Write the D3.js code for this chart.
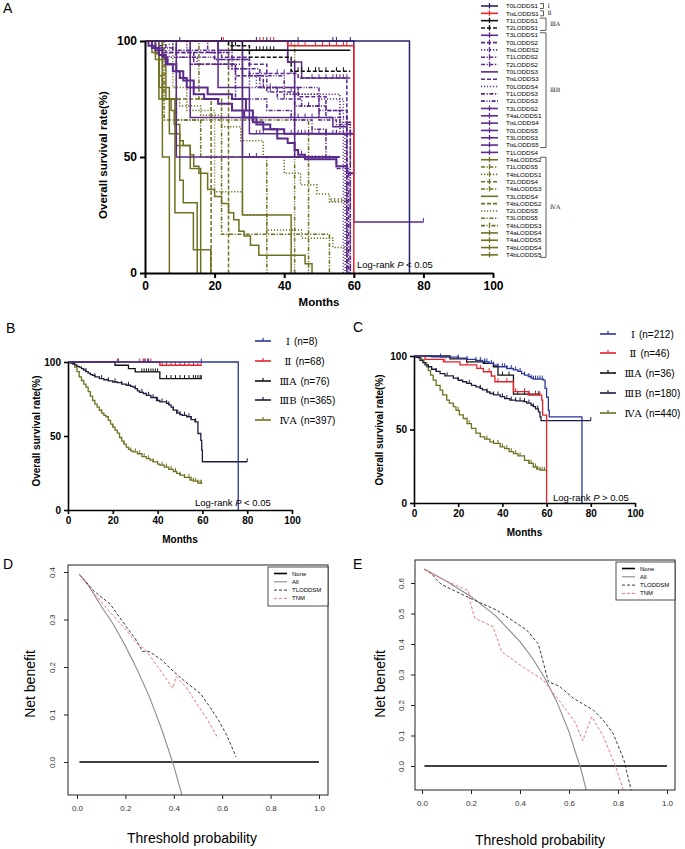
<!DOCTYPE html>
<html>
<head>
<meta charset="utf-8">
<script src="https://cdn.jsdelivr.net/npm/d3@7"></script>
<style>
  body { margin: 0; background: #fff; }
  svg text { font-family: Arial, "Liberation Sans", sans-serif; }
</style>
</head>
<body>
<svg id="fig" width="685" height="849"></svg>
<script>
// ---------- data: panel A (stage by T + LODDS) ----------
var aNames = ["T0LODDS1","TisLODDS1","T1LODDS1","T2LODDS1","T3LODDS1","T0LODDS2","TisLODDS2","T1LODDS2","T2LODDS2",
  "T0LODDS3","TisLODDS3","T0LODDS4","T1LODDS3","T2LODDS3","T3LODDS2","T4aLODDS1","TisLODDS4","T0LODDS5","T3LODDS3",
  "TisLODDS5","T1LODDS4","T4aLODDS2","T1LODDS5","T4bLODDS1","T2LODDS4","T4aLODDS3","T3LODDS4","T4bLODDS2","T2LODDS5",
  "T3LODDS5","T4bLODDS3","T4aLODDS4","T4aLODDS5","T4bLODDS4","T4bLODDS5"];

// survival steps [month, %] for each legend entry
var aCurves = [
  [[0,100],[76,0]],
  [[0,100],[41,98],[60,0]],
  [[0,100],[25,96],[59,96]],
  [[0,100],[24,98],[30,93],[42,87],[59,87]],
  [[0,100],[21,96],[41,91],[45,84],[59,84]],
  [[0,100],[3,98],[5,95],[22,93],[30,90],[35,86],[44,84],[58,0]],
  [[0,100],[7,93],[15,90],[28,85],[32,80],[40,77],[50,75],[57,0]],
  [[0,100],[18,95],[25,88],[33,80],[38,75],[45,72],[52,67],[58,0]],
  [[0,100],[8,96],[20,92],[30,86],[35,78],[43,72],[50,66],[55,64],[59,0]],
  [[0,100],[28,50],[56,50]],
  [[0,100],[6,95],[14,90],[26,85],[34,80],[44,76],[52,70],[58,0]],
  [[0,100],[12,95],[24,88],[30,80],[40,77],[56,60],[57.5,0]],
  [[0,100],[13,90],[26,75],[35,70],[42,66],[48,62],[52,50],[55,45],[58.5,0]],
  [[0,100],[4,97],[9,93],[20,92],[30,85],[40,80],[50,70],[56,65],[59,0]],
  [[0,100],[1,98],[3,96],[5,93],[6.5,90],[8,87],[10,84],[12,80],[14,77],[17,75],[21,73],[25,70],[28.5,67],[32,64],[36,62],[40,60],[60,60]],
  [[0,100],[2,97],[4,94],[6,90],[9,87],[11,83],[14,80],[18,77],[25,75],[29,70],[31,65],[34,62],[38,58],[41,56],[43,53],[44,51],[46,49],[55,46],[58,43],[60,43]],
  [[0,100],[13,67],[50,67],[54,63],[58,63]],
  [[0,100],[21,80],[30,60],[60,60]],
  [[0,100],[9,50],[56,50]],
  [[0,100],[41,91],[43,50],[55,50]],
  [[0,100],[60,22],[80,22]],
  [[0,100],[3,94.5],[4,85],[5,75],[7.5,70],[8.4,64],[10,57],[11,55],[13,51],[14,46],[15.5,43],[18,36],[20,33],[22,30],[24,26],[25.5,23],[27,18],[28.5,16],[30.3,12],[32.7,7.6],[46,4],[48,0]],
  [[0,100],[5.5,66],[16,50],[35,0]],
  [[0,100],[5,75],[10,72],[16,68],[22,63],[27.5,57],[34,50],[40,43],[44.7,38],[49.4,34],[53,30.6],[58,30.6]],
  [[0,100],[5,75],[19,0]],
  [[0,100],[15.5,75],[22,16.7],[53,0]],
  [[0,100],[28,25],[42,0]],
  [[0,100],[24,0]],
  [[0,100],[8,80],[12,70],[20,35],[28,25],[35,18.5],[45,15],[54,11],[58,2.6]],
  [[0,100],[9,66],[47,0]],
  [[0,100],[43,0]],
  [[0,100],[5,50],[7,0]],
  [[0,100],[3,92],[6,75],[8.6,26],[13.9,10],[18.9,0]],
  [[0,100],[4,80],[7,60],[10,40],[11,30.3],[15,0]],
  [[0,100],[2,95],[4,75],[9,55],[13,45],[16,0]]
];

// censored times (months)
var aCensor = [
  [10,22,32,35,44,54,55,59],
  [22.5,33,34,36,37,42,44,46,49,51,53,55,57,58],
  [32,33,34,35,36,37],
  [26,28,44,45,47,49,50,52,55,57],
  [48,50,52,54,55,56,57,58],
  [38,40,42],[34,36,44],[40,47,50],[36,38,42],
  [],[],[],[],[],
  [42,44,45,46,47,48,50,52,54,55,58],
  [45,47,48,49,50,51,52,53],
  [44,46,48,50],
  [32,33,34,52,55,57,59],
  [30,32],
  [],
  [80],
  [],[],
  [53.5,54.5,55.5,56.5,57.5],
  [],[],[],[],[],[],[],[],[],[],[],[]
];

var stageLabels = ["Ⅰ","Ⅱ","ⅢA","ⅢB","ⅣA"];
var stageFrom = [0,1,2,4,21];
var stageTo = [0,1,3,19,34];

// ---------- data: panels B and C ----------
var bN = [8,68,76,365,397];
var bCurves = [
  [[0,100],[76,0]],
  [[0,100],[41,97.8],[59.7,97.8]],
  [[0,100],[21,97.8],[27,95.5],[30,93.3],[41,88.8],[59.7,88.8]],
  [[0,100],[1,99.5],[2,99],[3,98],[4,97],[5,96.6],[6,95.5],[7,94.5],[8,93.5],[9,92.5],[10,91.5],[11,91],[12,90],[14,88.8],[16,88],[18,87.3],[20,86.5],[22,86],[24,85],[26,84.3],[28,83.5],[29,83],[30,82],[31,80.5],[32,79.5],[33.6,78.7],[35,77.5],[37,76],[39.5,74],[41,73],[44,72],[45,71],[46,69.5],[47,67.5],[48.5,65.5],[50,64.5],[51,64],[53,63],[55,61],[56.7,59.6],[58,51.7],[59.3,47],[59.7,40.4],[60,32.6],[80,32.6]],
  [[0,100],[1,99.5],[2,98.5],[3,96.6],[4,93.5],[5,90],[6,87.5],[7,85],[8,83],[9,80],[10,77],[11,74],[12,71.5],[13,69.5],[14,67.4],[15,65.5],[16,64],[17,63],[18,60.5],[19,58],[20,56],[21,54],[22,52],[23,49],[24,46.5],[25,44.5],[26,42.5],[27,41],[28,40],[29,39.3],[31,38],[33,36],[35,34.7],[36.6,33.7],[38,32.5],[40,31],[41,30.3],[43,29],[45,27.5],[47,26],[48.5,24.7],[50,23.5],[52,22],[54.5,20.2],[56,19.5],[58,18.2],[59.5,18],[60,18]]
];
var bCensor = [
  [22.5,34,36,59.5],
  [22,32,33.5,34.5,35.5,37,42,44,46,48,50,52,54,56,58,59.5],
  [33,34,35,36,37,38,39,40,44,46,48,50,52,54,56,57,58,59,59.5],
  [8,12,15,18,21,24,27,30,33,36,38,40,42,44,45,47,49,50,52,54,55,57,80],
  [10,15,20,25,28,30,32,34,36,38,40,42,44,46,48,50,52,54,55,56,57,58,59,59.5]
];

var cN = [212,46,36,180,440];
var cCurves = [
  [[0,100],[8,99.5],[12,99.3],[20,98.5],[24,97.7],[28,97],[31,96],[34,95],[36,93.8],[38,92.7],[42,91.5],[45,90.5],[47,89.5],[48.7,88],[50,87],[51.7,86],[53,85],[54,84.3],[58.5,83.6],[59.3,78],[60,72],[60.8,63],[61.2,58.6],[76,0]],
  [[0,100],[5,97.7],[13.3,96],[20.8,93.9],[28.4,91.6],[31.4,89.3],[35,86.4],[36.6,82.5],[45,75.7],[51.7,73.4],[57.8,70],[58.2,59.8],[60,0]],
  [[0,100],[16.3,98],[23.8,96],[31.4,95],[35.9,92.7],[38,87],[45,74],[57,74]],
  [[0,100],[1,99],[2.7,97],[4,95.5],[5,94],[6.5,92.7],[8,91],[10,89.5],[11.8,88],[14,86.5],[17.8,85],[20,83.5],[22,82.5],[23.8,81.4],[26,80],[28,79],[29.9,78],[31,77],[33,75.5],[34.4,74.5],[36,73.5],[39,72.3],[41,71],[43.4,70],[46,69.5],[49.5,69],[51,68],[53,66.5],[54,65.5],[55,64],[56.3,62],[57,58.6],[57.5,56],[80,56]],
  [[0,100],[1,99.3],[2,98.5],[3.5,97.3],[4.5,95.5],[5.7,92.7],[6.5,90],[7.5,87],[8.7,83.6],[10,80],[11.8,76.8],[13,73.5],[14.8,70],[16,68],[17.8,65.5],[19,63],[20.5,60],[22.3,57.5],[24,54],[26,50.7],[28,47.5],[30,45],[32,43.5],[34.4,41.6],[36,40.5],[39,38.2],[41,37],[43,35],[45,33.6],[47,32],[50,29],[52,27],[54,24.5],[55.5,23],[57,22.3],[60,21]]
];
var cCensor = [
  [12,20,24,28,30,32,33,35,36,38,40,41,42,44,46,48,50,52,53,54,55,56,57,58],
  [14,24,30,34,38,42,46,50,52,55,57],
  [20,32,36,40,43,47,50,52,55,56.5],
  [10,15,20,25,30,33,36,38,40,42,44,46,48,50,52,54,56,80],
  [20,25,30,33,36,38,40,42,44,46,48,50,52,53,54,55,56,57,58,59]
];

var kmXTicks = [0,20,40,60,80,100];
var kmYTicks = [0,50,100];

// ---------- data: panels D and E (decision curves) ----------
var dcaNames = ["None","All","TLODDSM","TNM"];
var dNone = [[0.01,0],[1,0]];
var dAll = [[0.01,0.395],[0.05,0.37],[0.1,0.328],[0.15,0.29],[0.2,0.244],[0.25,0.193],[0.3,0.136],[0.35,0.069],[0.4,-0.008],[0.45,-0.1]];
var dTlod = [[0.01,0.395],[0.07,0.36],[0.136,0.333],[0.205,0.284],[0.247,0.255],[0.27,0.233],[0.3,0.232],[0.35,0.215],[0.4,0.19],[0.45,0.168],[0.51,0.144],[0.55,0.115],[0.585,0.088],[0.62,0.055],[0.657,0.011]];
var dTnm = [[0.01,0.395],[0.07,0.355],[0.12,0.325],[0.2,0.28],[0.247,0.249],[0.28,0.238],[0.315,0.214],[0.355,0.185],[0.396,0.155],[0.41,0.18],[0.45,0.158],[0.495,0.123],[0.54,0.088],[0.583,0.05]];
var dYTicks = [0,0.1,0.2,0.3,0.4];

var eNone = [[0.01,0],[1,0]];
var eAll = [[0.01,0.645],[0.1,0.606],[0.2,0.556],[0.3,0.493],[0.4,0.408],[0.45,0.354],[0.5,0.29],[0.55,0.211],[0.6,0.112],[0.65,-0.014],[0.68,-0.11]];
var eTlod = [[0.01,0.645],[0.04,0.63],[0.06,0.61],[0.08,0.595],[0.196,0.55],[0.305,0.511],[0.427,0.446],[0.475,0.4],[0.516,0.276],[0.56,0.262],[0.618,0.222],[0.7,0.183],[0.74,0.15],[0.78,0.107],[0.824,0.02],[0.86,-0.1]];
var eTnm = [[0.01,0.645],[0.1,0.606],[0.19,0.575],[0.196,0.54],[0.216,0.484],[0.29,0.457],[0.325,0.375],[0.4,0.331],[0.495,0.282],[0.563,0.211],[0.624,0.145],[0.656,0.083],[0.693,0.162],[0.74,0.097],[0.79,0],[0.83,-0.1]];
var eYTicks = [0,0.1,0.2,0.3,0.4,0.5,0.6];
var dcaXTicks = [0,0.2,0.4,0.6,0.8,1];

// ---------- helpers ----------
var svg = d3.select("#fig");
var romanFont = '"DejaVu Serif", "Liberation Serif", serif';

function survAt(curve, t) {
  var s = curve[0][1];
  curve.forEach(function (p) { if (p[0] <= t) s = p[1]; });
  return s;
}

var dashes = { s: null, d: "4,2", o: "1.2,1.8", dd: "4,1.6,1.2,1.6", ddd: "4,1.5,1,1.5,1,1.5" };

// draws the KM axes for one panel
function kmAxes(g, x, y, o) {
  var xa = g.append("g")
    .attr("transform", "translate(0," + y(0) + ")")
    .call(d3.axisBottom(x).tickValues(kmXTicks).tickSize(o.tick).tickSizeOuter(0).tickPadding(o.pad));
  var ya = g.append("g")
    .attr("transform", "translate(" + x(0) + ",0)")
    .call(d3.axisLeft(y).tickValues(kmYTicks).tickSize(o.tick).tickSizeOuter(0).tickPadding(o.pad));
  [xa, ya].forEach(function (a) {
    a.select(".domain").attr("stroke", "#000").attr("stroke-width", o.lw);
    a.selectAll(".tick line").attr("stroke", "#000").attr("stroke-width", o.lw);
    a.selectAll("text").attr("fill", "#000").style("font-size", o.fs + "px").style("font-weight", "bold");
  });
  g.append("text")
    .attr("x", (x(0) + x(100)) / 2).attr("y", o.monthsY)
    .attr("text-anchor", "middle").style("font-size", o.lfs + "px").style("font-weight", "bold")
    .text("Months");
  g.append("text")
    .attr("transform", "translate(" + o.ylabX + "," + o.ylabY + ") rotate(-90)")
    .attr("text-anchor", "middle").style("font-size", o.lfs + "px").style("font-weight", "bold")
    .text("Overall survival rate(%)");
}

function logRank(g, x, y, sign) {
  var t = g.append("text").attr("x", x).attr("y", y).style("font-size", "9.5px");
  t.append("tspan").text("Log-rank ");
  t.append("tspan").style("font-style", "italic").text("P");
  t.append("tspan").text(" " + sign + " 0.05");
}

function drawCurve(g, x, y, curve, censor, color, dash, lw, th) {
  var line = d3.line().x(function (d) { return x(d[0]); }).y(function (d) { return y(d[1]); }).curve(d3.curveStepAfter);
  g.append("path").datum(curve)
    .attr("d", line).attr("fill", "none")
    .attr("stroke", color).attr("stroke-width", lw)
    .attr("stroke-dasharray", dash);
  g.selectAll(null).data(censor).enter().append("line")
    .attr("x1", function (t) { return x(t); }).attr("x2", function (t) { return x(t); })
    .attr("y1", function (t) { return y(survAt(curve, t)); })
    .attr("y2", function (t) { return y(survAt(curve, t)) - th; })
    .attr("stroke", color).attr("stroke-width", 1);
}

// panel letters
[["A",3,13],["B",6,333],["C",353,332],["D",3,569],["E",353,569]].forEach(function (p) {
  svg.append("text").attr("x", p[1]).attr("y", p[2]).style("font-size", "14px").text(p[0]);
});

// ---------- panel A ----------
var navyA = "#24246e", red = "#e8262a", purple = "#5b2a8c", olive = "#6f7020";
var aColor = function (i) { return i === 0 ? navyA : i === 1 ? red : i < 4 ? "#111" : i < 21 ? purple : olive; };
var aDash = ["s","s","s","d","s","d","o","dd","dd","s","d","o","dd","ddd","s","s","s","s","s","s","s",
  "s","dd","o","d","dd","s","d","o","dd","ddd","s","s","s","s"];
var aLegTick = [1,1,1,1,1,1,1,1,1,0,0,0,0,0,1,1,1,1,1,1,1,1,1,1,1,1,0,0,0,0,1,1,1,1,1];

var gA = svg.append("g");
var ax = d3.scaleLinear().domain([0, 100]).range([145, 493]);
var ay = d3.scaleLinear().domain([0, 100]).range([273, 41]);

for (var i = aCurves.length - 1; i >= 0; i--) {
  drawCurve(gA, ax, ay, aCurves[i], aCensor[i], aColor(i), dashes[aDash[i]], i === 15 || i === 14 ? 2 : 1.5, 4);
}
kmAxes(gA, ax, ay, { tick: 5, pad: 3, lw: 2, fs: 12, lfs: 11.5, monthsY: 306, ylabX: 107, ylabY: 155 });
logRank(gA, 357, 268, "<");

// legend A
aNames.forEach(function (n, i) {
  var yy = 6 + i * 7.32;
  gA.append("line").attr("x1", 481).attr("x2", 498).attr("y1", yy).attr("y2", yy)
    .attr("stroke", aColor(i)).attr("stroke-width", 1.6).attr("stroke-dasharray", dashes[aDash[i]]);
  if (aLegTick[i]) {
    gA.append("line").attr("x1", 489.5).attr("x2", 489.5).attr("y1", yy - 3).attr("y2", yy + 2.5)
      .attr("stroke", aColor(i)).attr("stroke-width", 1.3);
  }
  gA.append("text").attr("x", 506).attr("y", yy + 2.2).style("font-size", "6.2px").text(n);
});
stageLabels.forEach(function (s, k) {
  var y1 = 6 + stageFrom[k] * 7.32 - 2.5, y2 = 6 + stageTo[k] * 7.32 + 2.5;
  var bx = k < 2 ? 543.5 : 546;
  gA.append("path")
    .attr("d", "M540," + y1 + "H" + bx + "V" + y2 + "H540")
    .attr("fill", "none").attr("stroke", "#333").attr("stroke-width", 0.8);
  gA.append("text").attr("x", bx + 4).attr("y", (y1 + y2) / 2 + 2)
    .style("font-family", romanFont).style("font-size", "6px").attr("fill", "#222").text(s);
});

// ---------- panels B and C ----------
var kmColors = ["#2b3598", "#e3242b", "#111111", "#1c1c3e", "#6f7020"];

function kmPanel(xr, yr, curves, censor, nArr, o) {
  var g = svg.append("g");
  var x = d3.scaleLinear().domain([0, 100]).range(xr);
  var y = d3.scaleLinear().domain([0, 100]).range(yr);
  for (var k = curves.length - 1; k >= 0; k--) {
    drawCurve(g, x, y, curves[k], censor[k], kmColors[k], null, 1.3, 3.5);
  }
  kmAxes(g, x, y, o);
  logRank(g, o.lrX, o.lrY, o.sign);
  stageLabels.forEach(function (s, k) {
    var yy = o.legY[k];
    g.append("line").attr("x1", o.legX).attr("x2", o.legX + 16).attr("y1", yy).attr("y2", yy)
      .attr("stroke", kmColors[k]).attr("stroke-width", 1.6);
    g.append("line").attr("x1", o.legX + 8).attr("x2", o.legX + 8).attr("y1", yy - 3).attr("y2", yy)
      .attr("stroke", kmColors[k]).attr("stroke-width", 1.2);
    var r = g.append("text").attr("x", o.romX).attr("y", yy + 3.5).attr("text-anchor", "middle")
      .style("font-family", romanFont).style("font-size", "10px").text(s);
    var w = r.node().getComputedTextLength();
    g.append("text").attr("x", o.romX + w / 2 + 4).attr("y", yy + 3.5)
      .style("font-size", "10px").text("(n=" + nArr[k] + ")");
  });
}

kmPanel([68, 292], [510, 362], bCurves, bCensor, bN,
  { tick: 4, pad: 3, lw: 1.6, fs: 10, lfs: 10, monthsY: 543, ylabX: 40, ylabY: 431,
    lrX: 195, lrY: 506, sign: "<", legX: 255, romX: 288, legY: [341, 361, 381, 400, 420] });
kmPanel([414, 635], [503, 356], cCurves, cCensor, cN,
  { tick: 4, pad: 3, lw: 1.6, fs: 10, lfs: 10, monthsY: 536, ylabX: 383, ylabY: 430,
    lrX: 553, lrY: 501, sign: ">", legX: 600, romX: 633, legY: [334, 353, 373, 393, 413] });

// ---------- panels D and E ----------
var dcaStyle = [
  { c: "#000", w: 1.6, d: null },
  { c: "#8a8a8a", w: 1.1, d: null },
  { c: "#222", w: 0.9, d: "3,2" },
  { c: "#f07878", w: 1, d: "3,2" }
];

function dcaPanel(box, xr, yDom, yRan, series, yTicks, o) {
  var g = svg.append("g");
  var x = d3.scaleLinear().domain([0, 1]).range(xr);
  var y = d3.scaleLinear().domain(yDom).range(yRan);
  var clipId = "clip" + o.id;
  g.append("clipPath").attr("id", clipId).append("rect")
    .attr("x", box[0]).attr("y", box[2]).attr("width", box[1] - box[0]).attr("height", box[3] - box[2]);
  var line = d3.line().x(function (d) { return x(d[0]); }).y(function (d) { return y(d[1]); });
  series.forEach(function (s, k) {
    g.append("path").datum(s).attr("d", line).attr("clip-path", "url(#" + clipId + ")")
      .attr("fill", "none").attr("stroke", dcaStyle[k].c).attr("stroke-width", dcaStyle[k].w)
      .attr("stroke-dasharray", dcaStyle[k].d);
  });
  g.append("rect").attr("x", box[0]).attr("y", box[2]).attr("width", box[1] - box[0]).attr("height", box[3] - box[2])
    .attr("fill", "none").attr("stroke", "#222").attr("stroke-width", 1);

  var xa = g.append("g").attr("transform", "translate(0," + box[3] + ")")
    .call(d3.axisBottom(x).tickValues(dcaXTicks).tickFormat(d3.format(".1f")).tickSize(4).tickPadding(6));
  var ya = g.append("g").attr("transform", "translate(" + box[0] + ",0)")
    .call(d3.axisLeft(y).tickValues(yTicks).tickFormat(d3.format(".1f")).tickSize(4));
  [xa, ya].forEach(function (a) {
    a.select(".domain").remove();
    a.selectAll(".tick line").attr("stroke", "#222");
    a.selectAll("text").attr("fill", "#333").style("font-size", "8px");
  });
  ya.selectAll("text").attr("transform", "rotate(-90)").attr("x", 0).attr("y", o.ytl).attr("dy", 0)
    .attr("text-anchor", "middle");

  g.append("text").attr("transform", "translate(" + o.ylabX + "," + o.ylabY + ") rotate(-90)")
    .attr("text-anchor", "middle").style("font-size", "14px").text("Net benefit");
  g.append("text").attr("x", o.xlabX).attr("y", o.xlabY)
    .attr("text-anchor", "middle").style("font-size", "14px").text("Threshold probability");

  // legend
  var L = o.leg;
  g.append("rect").attr("x", L[0]).attr("y", L[1]).attr("width", L[2]).attr("height", L[3])
    .attr("fill", "#fff").attr("stroke", "#222").attr("stroke-width", 0.8);
  dcaNames.forEach(function (n, k) {
    var yy = L[1] + 6.5 + k * 8.3;
    g.append("line").attr("x1", L[0] + 6).attr("x2", L[0] + 19).attr("y1", yy).attr("y2", yy)
      .attr("stroke", dcaStyle[k].c).attr("stroke-width", dcaStyle[k].w).attr("stroke-dasharray", dcaStyle[k].d);
    g.append("text").attr("x", L[0] + 24).attr("y", yy + 2).style("font-size", "6px").text(n);
  });
}

dcaPanel([68, 328, 565, 795], [77, 319], [0, 0.4], [762, 572], [dNone, dAll, dTlod, dTnm], dYTicks,
  { id: "D", ytl: -13, ylabX: 35, ylabY: 684, xlabX: 192, xlabY: 843, leg: [268, 567, 60, 39] });
dcaPanel([415, 675, 560, 790], [422, 667], [0, 0.6], [766, 583], [eNone, eAll, eTlod, eTnm], eYTicks,
  { id: "E", ytl: -11, ylabX: 385, ylabY: 684, xlabX: 540, xlabY: 845, leg: [616, 562, 59, 38] });
</script>
</body>
</html>
